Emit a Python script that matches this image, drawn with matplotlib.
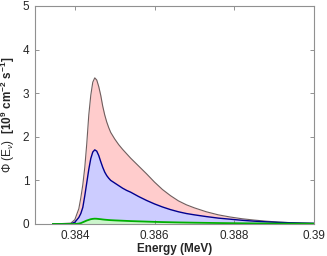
import matplotlib
matplotlib.use("Agg")
import matplotlib.pyplot as plt

plt.rcParams['font.family'] = ['Liberation Sans', 'DejaVu Sans']
plt.rcParams['mathtext.fontset'] = 'custom'
plt.rcParams['mathtext.rm'] = 'Liberation Sans'
plt.rcParams['mathtext.it'] = 'Liberation Sans:italic'
plt.rcParams['mathtext.bf'] = 'Liberation Sans:bold'

# energy grid (MeV)
energy = [0.38345, 0.3839, 0.3840, 0.3841, 0.38415, 0.3842, 0.38425, 0.3843,
          0.38435, 0.3844, 0.38445, 0.3845, 0.38455, 0.3846, 0.38465, 0.3847,
          0.38475, 0.3848, 0.38485, 0.3849, 0.3850, 0.3851, 0.3852, 0.3853,
          0.3854, 0.3855, 0.3856, 0.3858, 0.3860, 0.3862, 0.3864, 0.3866,
          0.3868, 0.3870, 0.3873, 0.3876, 0.3879, 0.3882, 0.3885, 0.3888,
          0.3891, 0.3894, 0.3897, 0.3900]

# flux, 10^9 cm^-2 s^-1
total = [0, 0.02, 0.1, 0.35, 0.6, 0.9, 1.3, 1.85,
         2.5, 2.95, 3.25, 3.35, 3.3, 3.15, 2.95, 2.7,
         2.5, 2.34, 2.21, 2.1, 1.95, 1.82, 1.71, 1.61,
         1.51, 1.42, 1.33, 1.15, 0.96, 0.79, 0.65, 0.53,
         0.44, 0.37, 0.28, 0.21, 0.16, 0.12, 0.09, 0.065,
         0.045, 0.032, 0.022, 0.015]
part_a = [0, 0.005, 0.04, 0.15, 0.24, 0.38, 0.65, 0.95,
          1.25, 1.5, 1.65, 1.7, 1.67, 1.57, 1.43, 1.3,
          1.19, 1.11, 1.05, 1.0, 0.94, 0.88, 0.82, 0.77,
          0.73, 0.68, 0.63, 0.54, 0.46, 0.39, 0.33, 0.28,
          0.24, 0.21, 0.17, 0.135, 0.11, 0.085, 0.065, 0.05,
          0.037, 0.028, 0.02, 0.015]
part_b = [0, 0, 0, 0.01, 0.02, 0.04, 0.06, 0.08,
          0.095, 0.11, 0.118, 0.122, 0.12, 0.115, 0.11, 0.104,
          0.099, 0.095, 0.091, 0.088, 0.083, 0.079, 0.075, 0.071,
          0.067, 0.064, 0.061, 0.055, 0.049, 0.044, 0.04, 0.036,
          0.033, 0.03, 0.026, 0.022, 0.019, 0.016, 0.014, 0.012,
          0.01, 0.009, 0.008, 0.007]

fig = plt.figure(figsize=(3.27, 2.56), dpi=100)
ax = fig.add_axes([0.107, 0.125, 0.853, 0.852])

ax.fill_between(energy, total, color='#ffcccc', lw=0)
ax.plot(energy, total, color='#6e5e5e', lw=0.8)
ax.fill_between(energy, part_a, color='#ccccff', lw=0)
ax.plot(energy, part_a, color='#000090', lw=1.0)
ax.fill_between(energy, part_b, color='#ccf5cc', lw=0)
ax.plot(energy, part_b, color='#00b000', lw=1.3)

ax.set_xlim(0.383, 0.390)
ax.set_ylim(0, 5)
ax.set_xticks([0.384, 0.386, 0.388, 0.39])
ax.set_xticklabels(['0.384', '0.386', '0.388', '0.39'])
ax.set_yticks([0, 1, 2, 3, 4, 5])

ax.tick_params(direction='in', length=3, width=0.6, color='#808080',
               labelsize=8.5, labelcolor='#262626', top=True, right=True)
ax.tick_params(axis='x', pad=4)
ax.tick_params(axis='y', pad=4)
for s in ax.spines.values():
    s.set_color('#909090')
    s.set_linewidth(0.8)

ax.set_xlabel('Energy (MeV)', fontsize=8.5, fontweight='bold', color='#262626', labelpad=1)
ax.set_ylabel(r'$\Phi$ (E$_\nu$)  $\mathbf{[10^9\ cm^{-2}\ s^{-1}]}$',
              fontsize=8.5, color='#262626', labelpad=4)

fig.savefig('out.png', dpi=100)
